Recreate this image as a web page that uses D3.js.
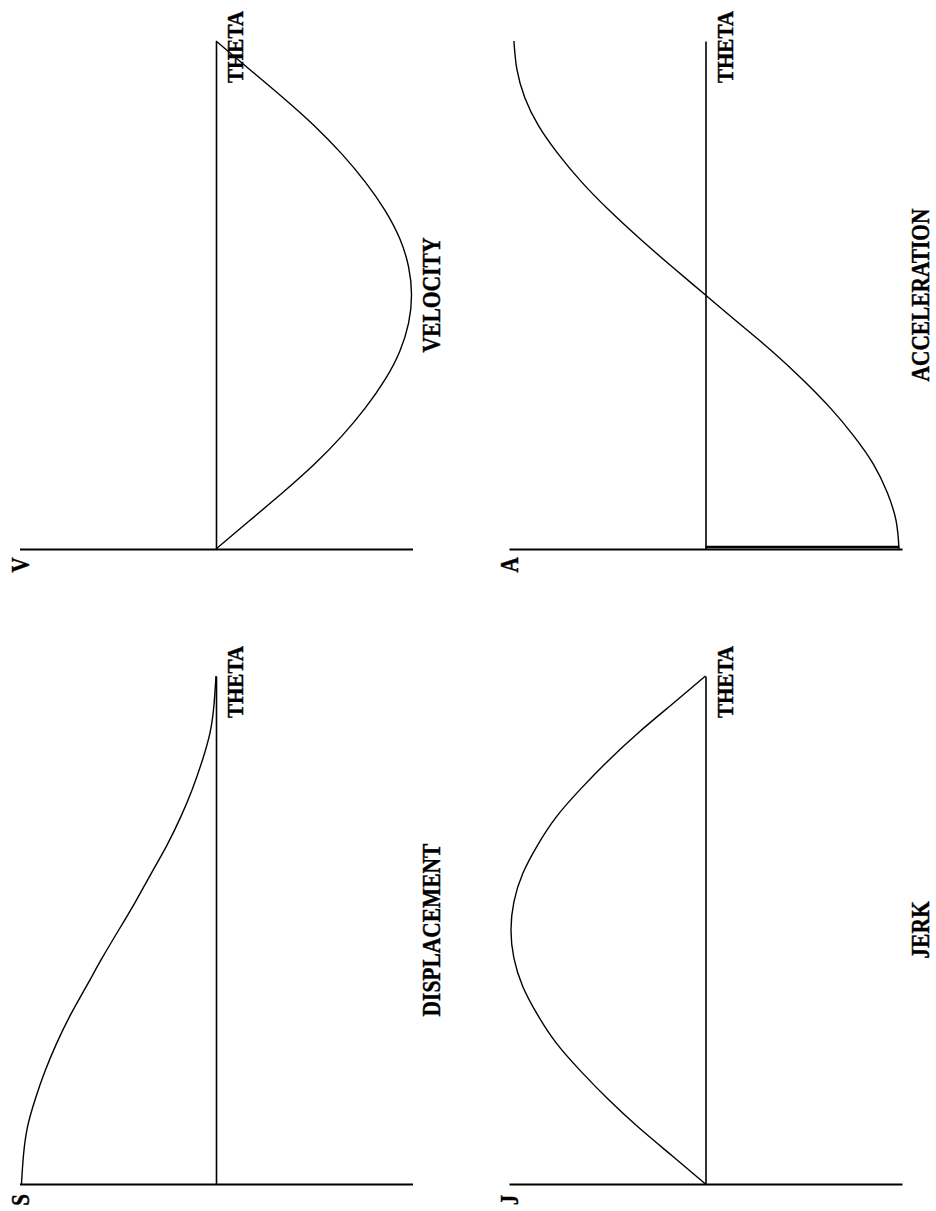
<!DOCTYPE html>
<html>
<head>
<meta charset="utf-8">
<script src="https://cdn.jsdelivr.net/npm/d3@7"></script>
<style>
  html, body { margin: 0; padding: 0; background: #fff; }
  svg { display: block; }
  text { font-family: "Liberation Serif", "DejaVu Serif", serif; font-weight: bold; fill: #000; stroke: #000; stroke-width: 0.35px; }
</style>
</head>
<body>
<svg id="chart" width="936" height="1211"></svg>
<script>
// Cam angle (degrees) at which each curve is sampled
const theta = [0, 10, 20, 30, 40, 50, 60, 70, 80, 90, 100, 110, 120, 130, 140, 150, 160, 170, 180];

// Normalised follower motion, -1 .. 1 on each value axis
const displacement = [0.99, 0.98, 0.96, 0.92, 0.87, 0.81, 0.74, 0.66, 0.58, 0.495, 0.41, 0.33, 0.25, 0.18, 0.12, 0.07, 0.03, 0.01, 0];
const velocity     = [0, -0.17, -0.34, -0.50, -0.64, -0.76, -0.86, -0.935, -0.98, -0.995, -0.98, -0.935, -0.86, -0.76, -0.64, -0.50, -0.34, -0.17, 0];
const acceleration = [-0.985, -0.97, -0.925, -0.855, -0.755, -0.635, -0.495, -0.34, -0.17, 0, 0.17, 0.335, 0.49, 0.63, 0.75, 0.85, 0.92, 0.96, 0.975];
const jerk         = [0, 0.17, 0.34, 0.495, 0.635, 0.76, 0.855, 0.93, 0.975, 0.99, 0.975, 0.93, 0.855, 0.76, 0.635, 0.495, 0.34, 0.17, 0];

// Acceleration steps from zero to its starting value at theta = 0
const accelerationJump = [0, -0.985];

const axisSymbols = ["S", "V", "A", "J"];
const curveTitles = ["DISPLACEMENT", "VELOCITY", "ACCELERATION", "JERK"];
const thetaLabel = "THETA";

// Page is printed in landscape: theta runs up the sheet, values run right-to-left
const panels = [
  { symbol: axisSymbols[0], title: curveTitles[0], values: displacement, col: 0, row: 1 },
  { symbol: axisSymbols[1], title: curveTitles[1], values: velocity,     col: 0, row: 0 },
  { symbol: axisSymbols[2], title: curveTitles[2], values: acceleration, col: 1, row: 0, jump: accelerationJump },
  { symbol: axisSymbols[3], title: curveTitles[3], values: jerk,         col: 1, row: 1 }
];

const colCentre = [216, 705.5];   // x of the theta axis
const rowBase   = [549, 1184];    // y where theta = 0
const halfSpan  = 196.5;          // half length of the value axis
const thetaLen  = 508;            // length of the theta axis
const pitch     = 14.4;           // fixed character pitch of the printer lettering

const svg = d3.select("#chart");

// bold printer-style lettering, set sideways (reads bottom to top)
function sideLabel(g, x, y, str, size) {
  const txt = g.append("text")
    .attr("transform", `translate(${x},${y}) rotate(-90) scale(1,1.2)`)
    .attr("text-anchor", "middle")
    .style("font-size", size + "px")
    .text(str);
  if (str.length > 1) {
    txt.attr("textLength", str.length * pitch).attr("lengthAdjust", "spacingAndGlyphs");
  }
}

panels.forEach(p => {
  const cx = colCentre[p.col];
  const y0 = rowBase[p.row];

  const t = d3.scaleLinear().domain([0, 180]).range([y0, y0 - thetaLen]);
  const v = d3.scaleLinear().domain([-1, 1]).range([cx + halfSpan, cx - halfSpan]);

  const g = svg.append("g");

  // value axis (horizontal on the sheet)
  const vAxis = d3.axisBottom(v).tickValues([]).tickSizeOuter(0);
  g.append("g").attr("transform", `translate(0,${t(0)})`).call(vAxis)
    .select(".domain").attr("stroke", "#000").attr("stroke-width", 1.9);

  // theta axis (vertical on the sheet)
  const tAxis = d3.axisRight(t).tickValues([]).tickSizeOuter(0);
  g.append("g").attr("transform", `translate(${v(0)},0)`).call(tAxis)
    .select(".domain").attr("stroke", "#000").attr("stroke-width", 1.6);

  const pts = theta.map((th, i) => ({ th, val: p.values[i] }));
  const line = d3.line().x(d => v(d.val)).y(d => t(d.th)).curve(d3.curveNatural);

  g.append("path").datum(pts)
    .attr("d", line)
    .attr("fill", "none").attr("stroke", "#000").attr("stroke-width", 1.4);

  if (p.jump) {
    g.append("line")
      .attr("x1", v(p.jump[0])).attr("x2", v(p.jump[1]))
      .attr("y1", t(0) - 2).attr("y2", t(0) - 2)
      .attr("stroke", "#000").attr("stroke-width", 2.4);
  }

  // axis symbol at the top of the value axis
  sideLabel(g, v(1) + 9, t(0) + 16, p.symbol, 21);

  // theta label at the end of the theta axis
  sideLabel(g, v(0) + 27, t(180) + 6, thetaLabel, 20);

  // curve title beyond the negative end of the value axis
  sideLabel(g, v(-1) + 27, t(90), p.title, 21);
});
</script>
</body>
</html>
